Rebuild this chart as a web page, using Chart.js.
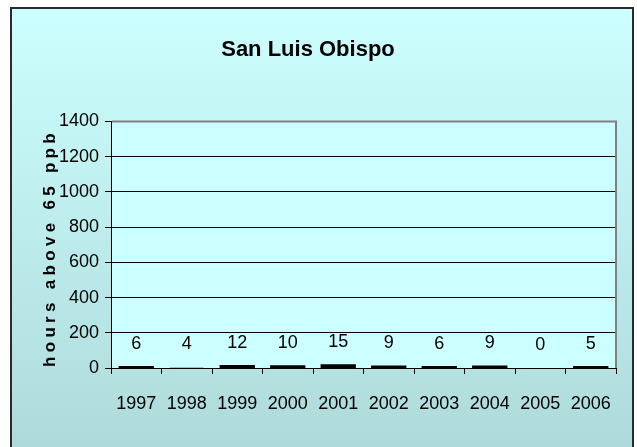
<!DOCTYPE html>
<html>
<head>
<meta charset="utf-8">
<script src="https://cdn.jsdelivr.net/npm/chart.js@4.4.1/dist/chart.umd.min.js"></script>
<style>
  html, body { margin: 0; padding: 0; background: #ffffff; }
  #wrap { position: relative; width: 637px; height: 447px; }
</style>
</head>
<body>
<div id="wrap"><canvas id="chart" width="637" height="447"></canvas></div>
<script>
  var years = ["1997", "1998", "1999", "2000", "2001", "2002", "2003", "2004", "2005", "2006"];
  var hours = [6, 4, 12, 10, 15, 9, 6, 9, 0, 5];
  var yMax = 1400;
  var yStep = 200;
  var chartTitle = "San Luis Obispo";
  var yTitle = "hours above 65 ppb";

  var face = "'Liberation Sans', Arial, sans-serif";

  // outer box with gradient, plot area fill, y title, value labels
  var decor = {
    id: "decor",
    beforeDraw: function (chart) {
      var ctx = chart.ctx;
      var a = chart.chartArea;
      ctx.save();
      var g = ctx.createLinearGradient(0, 7, 0, 447);
      g.addColorStop(0, "#ccffff");
      g.addColorStop(1, "#afdada");
      ctx.fillStyle = g;
      ctx.fillRect(10, 7, 624, 445);
      ctx.strokeStyle = "#2b2b2b";
      ctx.lineWidth = 2;
      ctx.strokeRect(11, 8, 622, 445);
      ctx.fillStyle = "#ccffff";
      ctx.fillRect(a.left, a.top, a.right - a.left, a.bottom - a.top);
      ctx.restore();
    },
    afterDatasetsDraw: function (chart) {
      var ctx = chart.ctx;
      var a = chart.chartArea;
      ctx.save();
      ctx.strokeStyle = "#808080";
      ctx.lineWidth = 2;
      ctx.beginPath();
      ctx.moveTo(a.left + 1, a.top);
      ctx.lineTo(a.right, a.top);
      ctx.lineTo(a.right, a.bottom);
      ctx.stroke();

      ctx.fillStyle = "#000";
      ctx.font = "18px " + face;
      ctx.textAlign = "center";
      ctx.textBaseline = "middle";
      chart.getDatasetMeta(0).data.forEach(function (bar, i) {
        ctx.fillText(String(hours[i]), bar.x, bar.y - 23);
      });

      ctx.translate(50, 250);
      ctx.rotate(-Math.PI / 2);
      ctx.font = "bold 17px " + face;
      ctx.letterSpacing = "4.3px";
      ctx.fillText(yTitle, 2, 0);
      ctx.restore();
    }
  };

  new Chart(document.getElementById("chart"), {
    type: "bar",
    data: {
      labels: years,
      datasets: [{
        data: hours,
        backgroundColor: "#000000",
        borderWidth: 0,
        inflateAmount: function (c) { return c.raw >= 5 ? 1 : 0; },
        barPercentage: 0.66,
        categoryPercentage: 1
      }]
    },
    options: {
      responsive: false,
      animation: false,
      layout: { padding: { left: 0, right: 21, top: 0, bottom: 0 } },
      plugins: {
        legend: { display: false },
        tooltip: { enabled: false },
        title: {
          display: true,
          text: chartTitle,
          color: "#000",
          font: { family: face, size: 22, weight: "bold" },
          padding: { top: 37, bottom: 58 }
        }
      },
      scales: {
        x: {
          afterFit: function (s) { s.height = 79; },
          grid: { drawOnChartArea: false, drawTicks: true, tickLength: 6, color: "#000", offset: true },
          border: { color: "#000", width: 1 },
          ticks: { color: "#000", font: { family: face, size: 18 }, padding: 19, maxRotation: 0 }
        },
        y: {
          min: 0,
          max: yMax,
          afterFit: function (s) { s.width = 111; },
          grid: { color: "#000", lineWidth: 1, tickLength: 6 },
          border: { color: "#000", width: 1 },
          ticks: {
            stepSize: yStep,
            color: "#000",
            font: { family: face, size: 18 },
            padding: 6,
            callback: function (v) { return String(v); }
          }
        }
      }
    },
    plugins: [decor]
  });
</script>
</body>
</html>
